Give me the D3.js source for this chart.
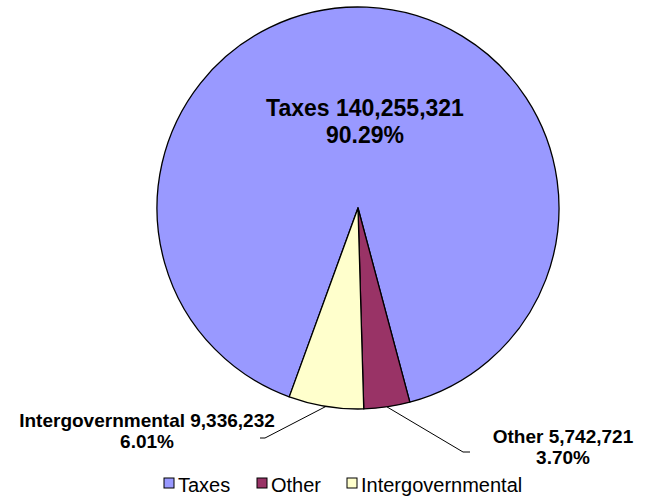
<!DOCTYPE html>
<meta charset="utf-8">
<html>
<head>
  <script src="https://d3js.org/d3.v7.min.js"></script>
  <style>
    body { margin: 0; background: #fff; }
    text { font-family: "Liberation Sans", Arial, sans-serif; }
  </style>
</head>
<body>
<div id="viz"></div>
<script>
  // revenue sources
  const categories = ['Taxes', 'Other', 'Intergovernmental'];
  const values = [140255321, 5742721, 9336232];
  const colors = ['#9999ff', '#993366', '#ffffcc'];

  const width = 652, height = 497;
  const cx = 358, cy = 208, radius = 201;

  const svg = d3.select('#viz').append('svg')
    .attr('width', width)
    .attr('height', height);

  const total = d3.sum(values);
  const fmtNum = d3.format(',');
  const fmtPct = d3.format('.2%');

  const data = categories.map((c, i) => ({ name: c, value: values[i], color: colors[i] }));

  // first slice starts at about 200 degrees (clockwise from 12 o'clock)
  const start = 200 * Math.PI / 180;
  const pie = d3.pie().sort(null).value(d => d.value)
    .startAngle(start).endAngle(start + 2 * Math.PI);

  const arc = d3.arc().innerRadius(0).outerRadius(radius);
  const edge = d3.arc().innerRadius(radius).outerRadius(radius);

  const g = svg.append('g').attr('transform', `translate(${cx},${cy})`);
  const arcs = pie(data);

  g.selectAll('path.slice')
    .data(arcs)
    .join('path')
    .attr('class', 'slice')
    .attr('d', arc)
    .attr('fill', d => d.data.color)
    .attr('stroke', '#000')
    .attr('stroke-width', 1.3)
    .attr('stroke-linejoin', 'round');

  // label placement, relative to the pie centre
  const labelPos = {
    'Taxes': { x: 7, y: -92, leader: null },
    'Other': { x: 205, y: 235, leader: [105, 244, 112] },
    'Intergovernmental': { x: -211, y: 219, leader: [-93, 230, -98] }
  };

  arcs.forEach(a => {
    const p = labelPos[a.data.name];
    const fs = a.data.name === 'Taxes' ? 23 : 19;
    const lh = a.data.name === 'Taxes' ? 26.5 : 20.5;
    const t = g.append('text')
      .attr('text-anchor', 'middle')
      .attr('font-weight', 'bold')
      .attr('font-size', fs)
      .attr('fill', '#000');
    t.append('tspan').attr('x', p.x).attr('y', p.y)
      .text(`${a.data.name} ${fmtNum(a.data.value)}`);
    t.append('tspan').attr('x', p.x).attr('y', p.y + lh)
      .text(fmtPct(a.data.value / total));

    if (p.leader) {
      const [sx, sy] = edge.centroid(a);
      const [ex, ey, tx] = p.leader;
      g.append('polyline')
        .attr('points', `${sx},${sy} ${ex},${ey} ${tx},${ey}`)
        .attr('fill', 'none')
        .attr('stroke', '#000')
        .attr('stroke-width', 1);
    }
  });

  // legend
  const legend = svg.append('g').attr('transform', 'translate(164,478)');
  const legendX = [0, 93, 183];
  const item = legend.selectAll('g.item')
    .data(data)
    .join('g')
    .attr('class', 'item')
    .attr('transform', (d, i) => `translate(${legendX[i]},0)`);
  item.append('rect')
    .attr('width', 10).attr('height', 10)
    .attr('fill', d => d.color)
    .attr('stroke', '#000')
    .attr('stroke-width', 1);
  item.append('text')
    .attr('x', 14).attr('y', 13.5)
    .attr('font-size', 20)
    .attr('fill', '#000')
    .text(d => d.name);
</script>
</body>
</html>
